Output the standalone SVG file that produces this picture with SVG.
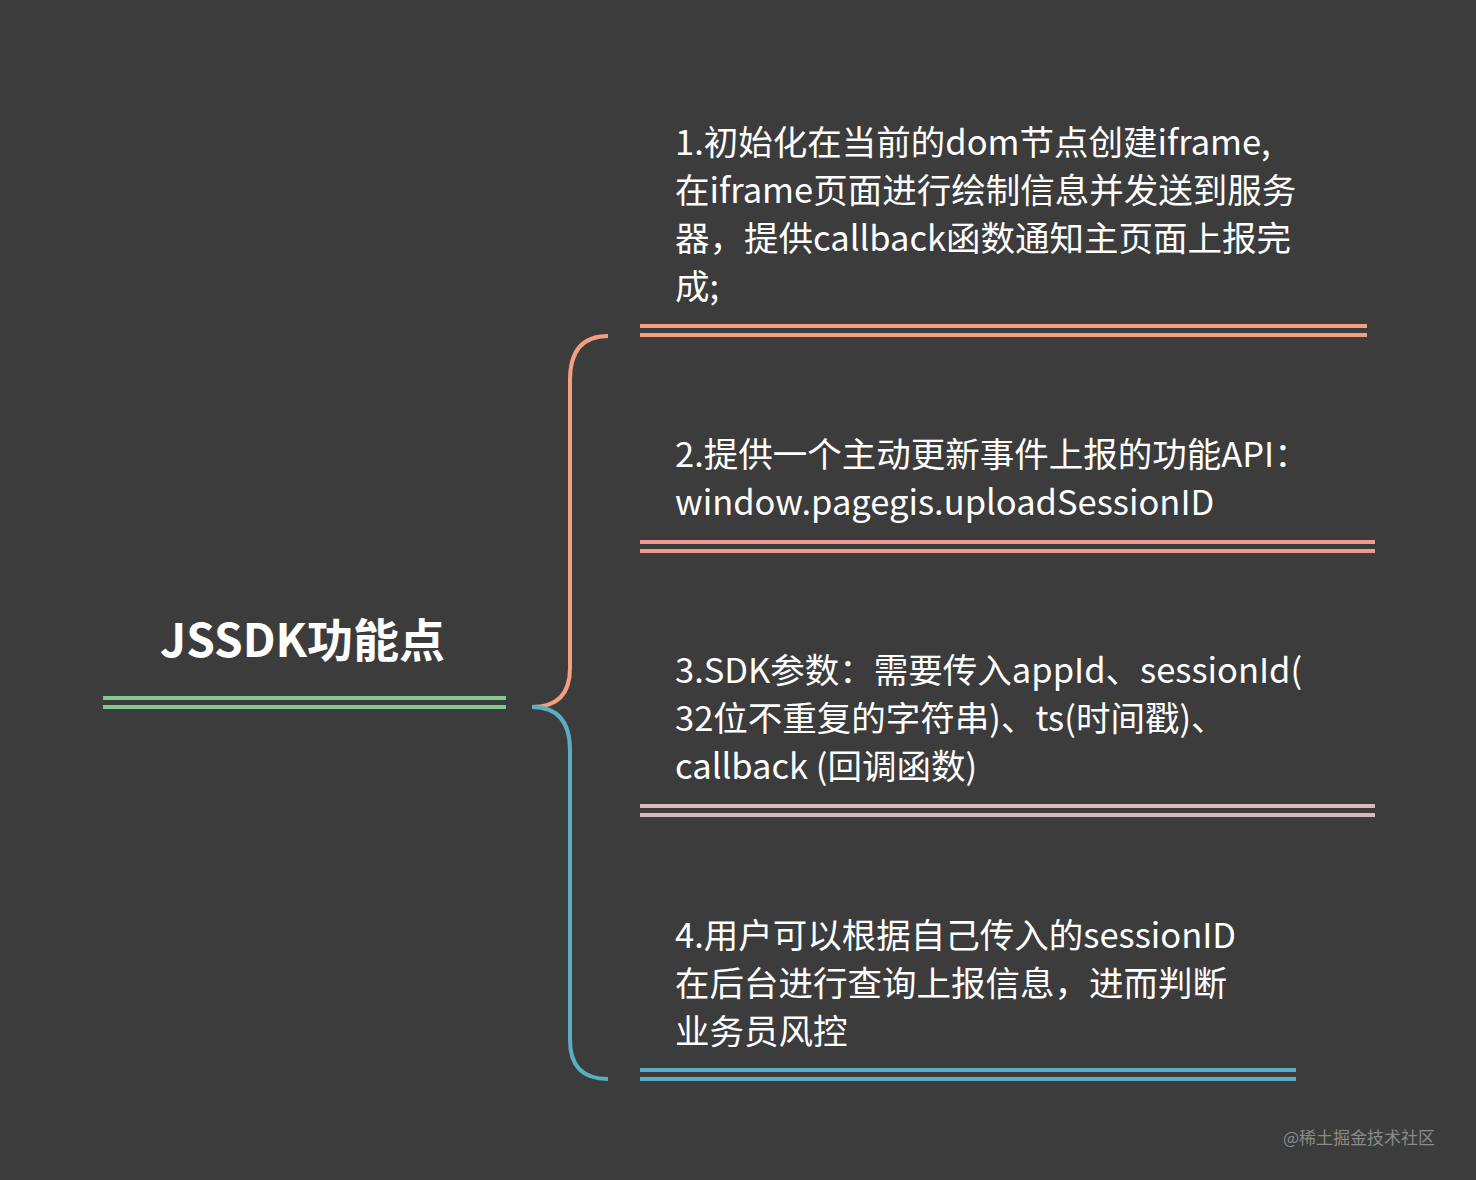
<svg xmlns="http://www.w3.org/2000/svg" width="1476" height="1180" viewBox="0 0 1476 1180">
<style>
.t{font-family:"Noto Sans CJK SC","Noto Sans",sans-serif;font-size:34.5px;fill:#ffffff}
.h{font-family:"Noto Sans CJK SC","Noto Sans",sans-serif;font-size:46px;font-weight:bold;fill:#ffffff}
.l{stroke-width:4;fill:none}
.w{font-family:"Noto Sans CJK SC",sans-serif;font-size:17px;fill:#8a8a8a}
</style>
<rect width="1476" height="1180" fill="#3c3c3c"/>
<g id="connectors">
<path class="l" stroke="#f4a080" d="M608,336 Q570,336 570,380 L570,668 Q570,707 532,707"/>
<path class="l" stroke="#5aaec4" d="M532,707 Q570,707 570,750 L570,1040 Q570,1079 608,1079"/>
</g>
<g id="root">
<text class="h" x="160" y="657">JSSDK功能点</text>
<path class="l" stroke="#84c78f" d="M103,698H506M103,707H506"/>
</g>
<g id="n1">
<text class="t" x="675" y="155">1.初始化在当前的dom节点创建iframe,</text>
<text class="t" x="675" y="203">在iframe页面进行绘制信息并发送到服务</text>
<text class="t" x="675" y="251">器，提供callback函数通知主页面上报完</text>
<text class="t" x="675" y="299">成;</text>
<path class="l" stroke="#f4a080" d="M640,326H1367M640,335H1367"/>
</g>
<g id="n2">
<text class="t" x="675" y="467">2.提供一个主动更新事件上报的功能API：</text>
<text class="t" x="675" y="515">window.pagegis.uploadSessionID</text>
<path class="l" stroke="#ef9a92" d="M640,542H1375M640,551H1375"/>
</g>
<g id="n3">
<text class="t" x="675" y="683">3.SDK参数：需要传入appId、sessionId(</text>
<text class="t" x="675" y="731">32位不重复的字符串)、ts(时间戳)、</text>
<text class="t" x="675" y="779">callback (回调函数)</text>
<path class="l" stroke="#dcb8c0" d="M640,806H1375M640,815H1375"/>
</g>
<g id="n4">
<text class="t" x="675" y="948">4.用户可以根据自己传入的sessionID</text>
<text class="t" x="675" y="996">在后台进行查询上报信息，进而判断</text>
<text class="t" x="675" y="1044">业务员风控</text>
<path class="l" stroke="#5aaec4" d="M640,1070H1296M640,1079H1296"/>
</g>
<text class="w" x="1283" y="1144">@稀土掘金技术社区</text>
</svg>
